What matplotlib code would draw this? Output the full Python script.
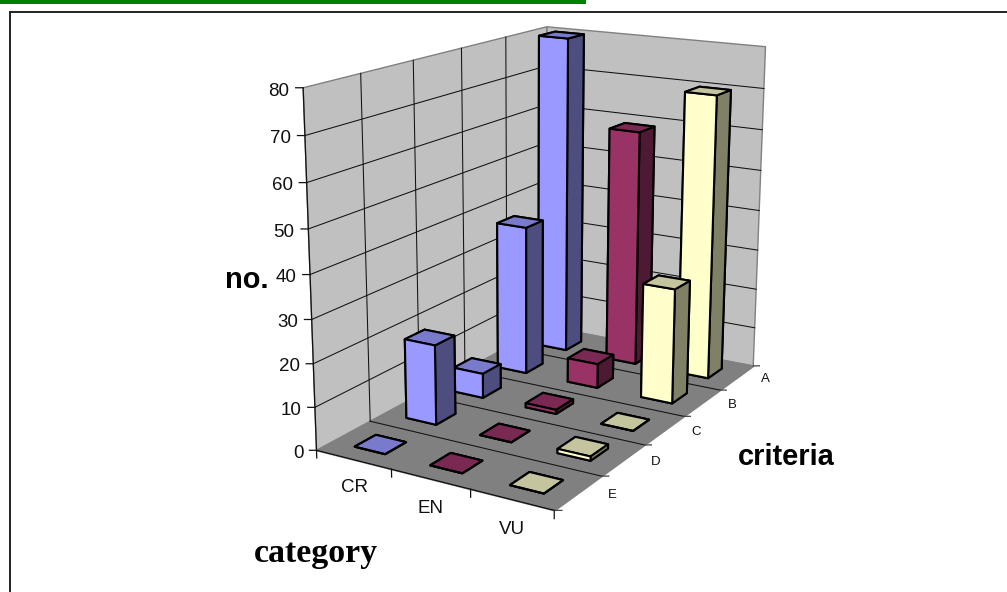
import matplotlib
matplotlib.use('Agg')
import matplotlib.pyplot as plt
from matplotlib.lines import Line2D
from matplotlib.patches import Rectangle
from mpl_toolkits.mplot3d import proj3d
from mpl_toolkits.mplot3d.art3d import Poly3DCollection

categories = ['CR', 'EN', 'VU']
criteria = ['E', 'D', 'C', 'B', 'A']
z_ticks = [0, 10, 20, 30, 40, 50, 60, 70, 80]

# one list per category, front row (E) to back row (A)
cr_values = [0, 19, 6, 37, 80]
en_values = [0, 0, 1, 6, 59]
vu_values = [0, 1, 0, 28, 70]
series_values = [cr_values, en_values, vu_values]

# front, top and side face colours for each category
front_colors = ['#9999FF', '#993366', '#FFFFCC']
top_colors = ['#7A7ACC', '#7A2952', '#C4C49E']
side_colors = ['#4D4D80', '#4D1933', '#808066']

W, H = 1007, 592
fig = plt.figure(figsize=(W / 100, H / 100), dpi=100)
ax = fig.add_axes([0.24036, 0.07368, 0.59569, 1.01328], projection='3d')
ax.computed_zorder = False
ax.set_axis_off()
ax.patch.set_visible(False)
ax.set_xticks([])
ax.set_yticks([])
ax.set_zticks([])

nx, ny, nz = len(categories), len(criteria), z_ticks[-1]

# walls and floor
left_wall = [(0, 0, 0), (0, ny, 0), (0, ny, nz), (0, 0, nz)]
back_wall = [(0, ny, 0), (nx, ny, 0), (nx, ny, nz), (0, ny, nz)]
floor = [(0, 0, 0), (nx, 0, 0), (nx, ny, 0), (0, ny, 0)]
ax.add_collection3d(Poly3DCollection([left_wall, back_wall], facecolor='#C0C0C0',
                                     edgecolor='#808080', linewidth=1.0, zorder=1))
ax.add_collection3d(Poly3DCollection([floor], facecolor='#808080',
                                     edgecolor='#808080', linewidth=1.0, zorder=1))

grid = dict(color='#111111', linewidth=0.75, zorder=2)
for z in z_ticks[1:-1]:
    ax.plot([0, 0, nx], [0, ny, ny], [z, z, z], **grid)
for j in range(1, ny):
    ax.plot([0, 0], [j, j], [0, nz], **grid)
    ax.plot([0, nx], [j, j], [0, 0], **grid)

# axis lines and tick marks
axis = dict(color='#111111', linewidth=0.9, zorder=2)
ax.plot([0, 0], [0, 0], [0, nz], **axis)
ax.plot([0, nx], [0, 0], [0, 0], **axis)
for z in z_ticks:
    ax.plot([0, -0.066], [0, -0.04], [z, z], **axis)
for i in range(nx + 1):
    ax.plot([i, i], [0, 0], [0, -1.8], **axis)
for j in range(ny + 1):
    ax.plot([nx, nx + 0.066], [j, j + 0.04], [0, 0], color='#444444', linewidth=0.9, zorder=2)

# bars, back row first so nearer ones paint over them
bar_dx, bar_dy = 0.41, 0.40
order = 3.0
for j in reversed(range(ny)):
    for i in range(nx):
        faces = [top_colors[i], top_colors[i], front_colors[i],
                 front_colors[i], side_colors[i], side_colors[i]]
        bar = ax.bar3d(i + 0.5 - bar_dx / 2, j + 0.5 - bar_dy / 2, 0, bar_dx, bar_dy,
                       series_values[i][j], color=faces, shade=False,
                       edgecolor='black', linewidth=1.5)
        bar.set_zorder(order)
        order += 0.01

ax.view_init(elev=15.7539, azim=-59.6751, roll=-0.2096)
ax.set_proj_type('persp', focal_length=0.5189)
ax.set_box_aspect((0.7494, 1.2298, 1.0))
ax.set_xlim(0, nx)
ax.set_ylim(0, ny)
ax.set_zlim(0, nz)


# tick labels go in as flat text at the projected position of their 3D anchor
def tick_label(x, y, z, s, size, ha='center'):
    px, py, _ = proj3d.proj_transform(x, y, z, ax.get_proj())
    ax.text2D(px, py, s, transform=ax.transData, ha=ha, va='center', fontsize=size,
              family='Liberation Sans', color='#111111', zorder=6)


for z in z_ticks:
    tick_label(-0.125, -0.075, z - 0.7, str(z), 13.5, ha='right')
for i, name in enumerate(categories):
    tick_label(i + 0.5, 0, -6.6, name, 13.5)
for j, name in enumerate(criteria):
    tick_label(nx + 0.31, j + 0.67, -0.3, name, 9.5)

# axis titles
fig.text(225 / W, 1 - 288 / H, 'no.', fontsize=20.9, fontweight='bold', family='Liberation Sans')
fig.text(738 / W, 1 - 465 / H, 'criteria', fontsize=20.9, fontweight='bold', family='Liberation Sans')
fig.text(254 / W, 1 - 562 / H, 'category', fontsize=24.4, fontweight='bold', family='Liberation Serif')

# chart frame (open at the right and bottom) and the green strip above it
frame = dict(color='#222222', linewidth=1.4, transform=fig.transFigure)
fig.add_artist(Line2D([9.8 / W, 1], [1 - 11.8 / H, 1 - 11.8 / H], **frame))
fig.add_artist(Line2D([9.8 / W, 9.8 / W], [1 - 11.8 / H, 0], **frame))
fig.add_artist(Rectangle((0, 1 - 3.7 / H), 586 / W, 3.7 / H, color='#008000',
                         linewidth=0, transform=fig.transFigure))

fig.savefig('out.png', dpi=100)
